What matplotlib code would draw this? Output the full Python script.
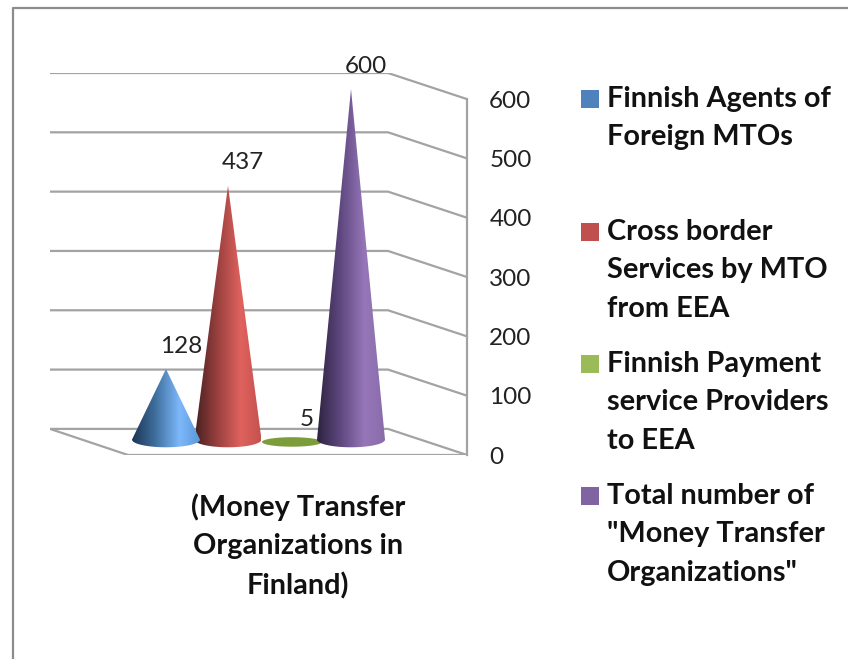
import numpy as np
import matplotlib
matplotlib.use('Agg')
import matplotlib.pyplot as plt
from matplotlib.colors import LinearSegmentedColormap
from matplotlib.patches import Polygon, Rectangle

# Chart values
series = ['Finnish Agents of\nForeign MTOs',
          'Cross border\nServices by MTO\nfrom EEA',
          'Finnish Payment\nservice Providers\nto EEA',
          'Total number of\n"Money Transfer\nOrganizations"']
values = [128, 437, 5, 600]
ticks = [0, 100, 200, 300, 400, 500, 600]
xlabel = '(Money Transfer\nOrganizations in\nFinland)'

# Styling
flat_colors = ['#4f81bd', '#c0504d', '#9bbb59', '#8064a2']
ramps = [['#1b3553', '#40709f', '#7db8fb', '#5b98d8'],
         ['#45201f', '#99403e', '#e0625e', '#c4524f'],
         ['#7d9c3c', '#7d9c3c', '#7d9c3c', '#7d9c3c'],
         ['#2e2340', '#5f4880', '#9676b8', '#8a6cab']]
cone_x = [166, 228, 292, 351]
cone_a = [34, 33.5, 30, 34]
legend_y = [99, 232, 364, 496]
FS = 20.8
NUM_FS = 17.5
GRID = '#a3a3a3'
W, H = 848, 659

plt.rcParams['font.family'] = ['Lato', 'DejaVu Sans']

fig = plt.figure(figsize=(W / 100, H / 100), dpi=100)

# Axes span the back wall left edge to the front axis, 0 sits at the front floor
left, right, bottom, top = 50, 467, 455, 73
ax = fig.add_axes([left / W, 1 - bottom / H, (right - left) / W, (bottom - top) / H])
ax.set_xlim(left, right)
ax.set_ylim(0, 644)
ax.patch.set_alpha(0)

depth_y = 44      # back wall offset in value units
wall_x = 388
floor_x = 128
for t in ticks:
    ax.plot([left, wall_x, right], [t + depth_y, t + depth_y, t], color=GRID, lw=1.6, zorder=1, solid_joinstyle='miter')
ax.plot([left, floor_x, right], [depth_y, 0, 0], color=GRID, lw=1.6, zorder=1)

for s in ['left', 'top', 'bottom']:
    ax.spines[s].set_visible(False)
ax.spines['right'].set_color(GRID)
ax.spines['right'].set_linewidth(1.6)
ax.spines['right'].set_bounds(0, 600)
ax.set_xticks([])
ax.yaxis.tick_right()
ax.set_yticks(ticks)
ax.tick_params(axis='y', length=0, pad=16, labelsize=NUM_FS, labelcolor='#222222')

# Cones
apex_base = 17
rim = 26
rim_b = 13
order = [1, 0, 2, 3]
for i in order:
    cx, a = cone_x[i], cone_a[i]
    if values[i] < 20:
        th = np.linspace(0, 2 * np.pi, 80)
        outline = np.column_stack([cx + a * np.cos(th), 22 + 8 * np.sin(th)])
    else:
        th = np.linspace(np.pi, 2 * np.pi, 60)
        arc = np.column_stack([cx + a * np.cos(th), rim + rim_b * np.sin(th)])
        outline = np.vstack([[cx, values[i] + apex_base], arc])
    cmap = LinearSegmentedColormap.from_list('c%d' % i, list(zip([0, 0.35, 0.7, 1], ramps[i])))
    im = ax.imshow(np.linspace(0, 1, 256)[None, :], cmap=cmap, aspect='auto', zorder=3,
                   extent=[cx - a, cx + a, 0, max(values[i] + apex_base, 40)])
    clip = Polygon(outline, closed=True, transform=ax.transData)
    im.set_clip_path(clip)
ax.set_xlim(left, right)
ax.set_ylim(0, 644)

# Data labels
for i in range(4):
    ax.annotate(str(values[i]), (cone_x[i], values[i] + apex_base), xytext=(10.8, 16.5),
                textcoords='offset points', ha='center', va='center',
                fontsize=NUM_FS, color='#222222', zorder=5)

# Category title
fig.text(298 / W, 1 - 546 / H, xlabel, ha='center', va='center', fontsize=FS,
         fontweight='bold', color='#111111', linespacing=1.59)

# Legend
for i in range(4):
    y = legend_y[i]
    fig.add_artist(Rectangle((581 / W, 1 - (y + 9) / H), 18 / W, 18 / H, transform=fig.transFigure,
                             facecolor=flat_colors[i], edgecolor='none'))
    fig.text(607 / W, 1 - (y - 13) / H, series[i], ha='left', va='top', fontsize=FS,
             fontweight='bold', color='#111111', linespacing=1.59)

# Outer chart frame
fig.add_artist(plt.Line2D([13 / W, 13 / W, 1], [0, 1 - 8 / H, 1 - 8 / H], transform=fig.transFigure,
                          color='#8c8c8c', lw=1.6))

fig.savefig('out.png', dpi=100)
